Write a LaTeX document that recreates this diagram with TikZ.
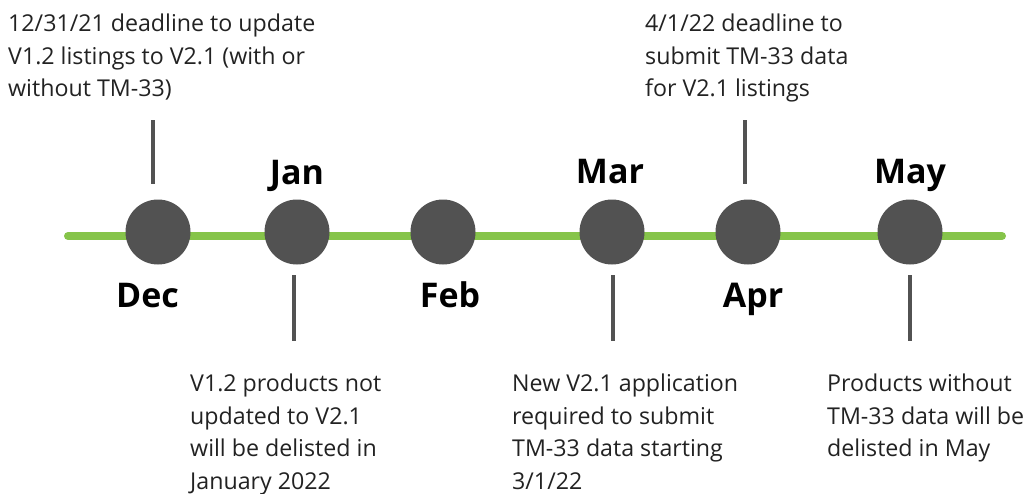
\documentclass[tikz,border=0pt]{standalone}
\usepackage{fontspec}
\setmainfont{Open Sans}
\usepackage{xcolor}
\usepackage{tikz}
\usetikzlibrary{positioning, calc}
\definecolor{linegreen}{HTML}{86C44A}
\definecolor{dotgray}{HTML}{525252}
\definecolor{textgray}{HTML}{222222}

\tikzset{
  monthdot/.style={circle, fill=dotgray, minimum size=65pt, inner sep=0pt},
  monthlabel/.style={font=\fontsize{34}{38}\selectfont\bfseries, text=black, inner sep=0pt, anchor=base},
  notetext/.style={font=\fontsize{23.2}{32.4}\selectfont, text=textgray, align=left, inner sep=0pt, anchor=north west},
  tickline/.style={draw=dotgray, line width=4pt}
}

\begin{document}
\begin{tikzpicture}[x=1pt, y=-1pt]
    \useasboundingbox (0,0) rectangle (1028,493);
    % Timeline
    \coordinate (lstart) at (68,236);
    \coordinate (lend) at (1002,236);
    \draw[linegreen, line width=8pt, line cap=round] (lstart) -- (lend);
    % Months
    \node[monthdot] (dec) at (158,232) {};
    \node[monthdot] (jan) at (297,232) {};
    \node[monthdot] (feb) at (443,232) {};
    \node[monthdot] (mar) at (612,232) {};
    \node[monthdot] (apr) at (748,232) {};
    \node[monthdot] (may) at (910,232) {};
    \node[monthlabel] (declbl) at (147.5,307) {Dec};
    \node[monthlabel] (janlbl) at (297,184) {Jan};
    \node[monthlabel] (feblbl) at (450,307) {Feb};
    \node[monthlabel] (marlbl) at (610,183) {Mar};
    \node[monthlabel] (aprlbl) at (753,307) {Apr};
    \node[monthlabel] (maylbl) at (910,183) {May};
    % Notes
    \node[notetext] (decnote) at (8,14) {12/31/21 deadline to update\\V1.2 listings to V2.1 (with or\\without TM-33)};
    \node[notetext] (aprnote) at (645,14) {4/1/22 deadline to\\submit TM-33 data\\for V2.1 listings};
    \node[notetext] (jannote) at (190,374) {V1.2 products not\\updated to V2.1\\will be delisted in\\January 2022};
    \node[notetext] (marnote) at (512,374) {New V2.1 application\\required to submit\\TM-33 data starting\\3/1/22};
    \node[notetext] (maynote) at (827,374) {Products without\\TM-33 data will be\\delisted in May};
    % Ticks
    \coordinate (dectop) at (153,120);
    \coordinate (decbot) at (153,184);
    \coordinate (jantop) at (294,275);
    \coordinate (janbot) at (294,341);
    \coordinate (martop) at (613,275);
    \coordinate (marbot) at (613,341);
    \coordinate (aprtop) at (745,120);
    \coordinate (aprbot) at (745,184);
    \coordinate (maytop) at (910,275);
    \coordinate (maybot) at (910,341);
    \foreach \t in {dec,jan,mar,apr,may}
      \draw[tickline] (\t top) -- (\t bot);
  \end{tikzpicture}
\end{document}
